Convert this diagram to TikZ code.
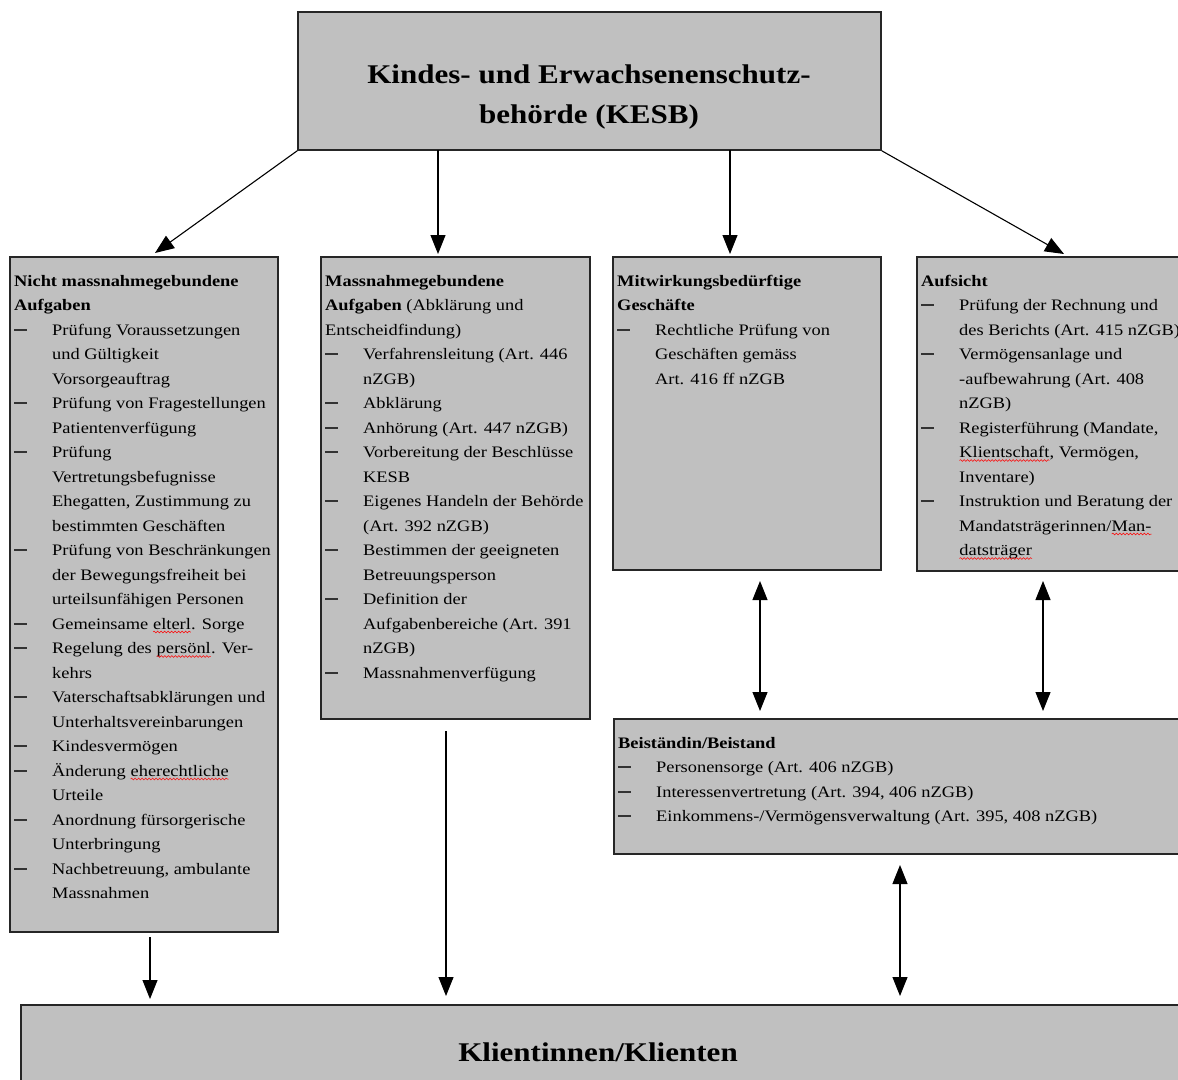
\documentclass[tikz,border=0pt]{standalone}
\usepackage{fontspec}
\setmainfont[FakeStretch=1.15]{Liberation Serif}
\usepackage{xcolor}
\usetikzlibrary{arrows.meta,decorations.pathmorphing}
\definecolor{boxgray}{HTML}{C0C0C0}
\newcommand\rw[1]{\tikz[baseline=(w.base)]{\node[inner sep=0pt,outer sep=0pt,anchor=base] (w) {#1};
  \draw[red,line width=0.5pt,decorate,decoration={snake,amplitude=0.9pt,segment length=3.5pt}]
   ([yshift=-3pt]w.base west) -- ([yshift=-3pt]w.base east);}}
\newcommand\hd[1]{\multicolumn{2}{@{}l@{}}{#1}}
\newcommand\dsh{\raisebox{4.5pt}{\color{black!80}\rule{13pt}{1.6pt}}}
\newenvironment{boxlist}{\fontsize{16}{24.5}\selectfont\begin{tabular}[t]{@{}p{38pt}@{}l@{}}}{\end{tabular}}
\begin{document}
\begin{tikzpicture}[x=1pt,y=-1pt,
  box/.style={draw=black!85,line width=1.6pt,fill=boxgray,inner sep=0pt,rectangle},
  txt/.style={anchor=base west,inner sep=0pt},
  arr/.style={line width=1.1pt,-{Triangle[width=15pt,length=19pt]}},
  biarr/.style={line width=1.1pt,{Triangle[width=15pt,length=19pt]}-{Triangle[width=15pt,length=19pt]}}]
\path[use as bounding box] (0,0) rectangle (1178,1079);
\clip (0,0) rectangle (1178,1079);
\fill[white] (0,0) rectangle (1178,1079);

% boxes
\node[box,minimum width=583pt,minimum height=138pt] (kesb) at (589.5,81) {};
\node[box,minimum width=268pt,minimum height=675pt] (b1) at (144,594.5) {};
\node[box,minimum width=269pt,minimum height=462pt] (b2) at (455.5,488) {};
\node[box,minimum width=268pt,minimum height=313pt] (b3) at (747,413.5) {};
\node[box,minimum width=268pt,minimum height=314pt] (b4) at (1051,414) {};
\node[box,minimum width=571pt,minimum height=135pt] (bst) at (899.5,786.5) {};
\node[box,minimum width=1165pt,minimum height=100pt] (kl) at (603.5,1055) {};

% titles
\node[anchor=base,inner sep=0pt] (kesbt) at (589,83) {\fontsize{27}{40}\selectfont\bfseries
  \begin{tabular}[t]{@{}c@{}}Kindes- und Erwachsenenschutz-\\ behörde (KESB)\end{tabular}};
\node[anchor=base,inner sep=0pt] (klt) at (598,1061) {\fontsize{27}{40}\selectfont\bfseries Klientinnen/Klienten};

% box texts
\node[txt] (t1) at (14,286) {\begin{boxlist}
\hd{\textbf{Nicht massnahmegebundene}}\\
\hd{\textbf{Aufgaben}}\\
\dsh & Prüfung Voraussetzungen\\
  & und Gültigkeit\\
  & Vorsorgeauftrag\\
\dsh & Prüfung von Fragestellungen\\
  & Patientenverfügung\\
\dsh & Prüfung\\
  & Vertretungsbefugnisse\\
  & Ehegatten, Zustimmung zu\\
  & bestimmten Geschäften\\
\dsh & Prüfung von Beschränkungen\\
  & der Bewegungsfreiheit bei\\
  & urteilsunfähigen Personen\\
\dsh & Gemeinsame \rw{elterl}. Sorge\\
\dsh & Regelung des \rw{persönl}. Ver-\\
  & kehrs\\
\dsh & Vaterschaftsabklärungen und\\
  & Unterhaltsvereinbarungen\\
\dsh & Kindesvermögen\\
\dsh & Änderung \rw{eherechtliche}\\
  & Urteile\\
\dsh & Anordnung fürsorgerische\\
  & Unterbringung\\
\dsh & Nachbetreuung, ambulante\\
  & Massnahmen
\end{boxlist}};

\node[txt] (t2) at (325,286) {\begin{boxlist}
\hd{\textbf{Massnahmegebundene}}\\
\hd{\textbf{Aufgaben} (Abklärung und}\\
\hd{Entscheidfindung)}\\
\dsh & Verfahrensleitung (Art. 446\\
  & nZGB)\\
\dsh & Abklärung\\
\dsh & Anhörung (Art. 447 nZGB)\\
\dsh & Vorbereitung der Beschlüsse\\
  & KESB\\
\dsh & Eigenes Handeln der Behörde\\
  & (Art. 392 nZGB)\\
\dsh & Bestimmen der geeigneten\\
  & Betreuungsperson\\
\dsh & Definition der\\
  & Aufgabenbereiche (Art. 391\\
  & nZGB)\\
\dsh & Massnahmenverfügung
\end{boxlist}};

\node[txt] (t3) at (617,286) {\begin{boxlist}
\hd{\textbf{Mitwirkungsbedürftige}}\\
\hd{\textbf{Geschäfte}}\\
\dsh & Rechtliche Prüfung von\\
  & Geschäften gemäss\\
  & Art. 416 ff nZGB
\end{boxlist}};

\node[txt] (t4) at (921,286) {\begin{boxlist}
\hd{\textbf{Aufsicht}}\\
\dsh & Prüfung der Rechnung und\\
  & des Berichts (Art. 415 nZGB)\\
\dsh & Vermögensanlage und\\
  & -aufbewahrung (Art. 408\\
  & nZGB)\\
\dsh & Registerführung (Mandate,\\
  & \rw{Klientschaft}, Vermögen,\\
  & Inventare)\\
\dsh & Instruktion und Beratung der\\
  & Mandatsträgerinnen/\rw{Man-}\\
  & \rw{datsträger}
\end{boxlist}};

\node[txt] (t5) at (618,748) {\begin{boxlist}
\hd{\textbf{Beiständin/Beistand}}\\
\dsh & Personensorge (Art. 406 nZGB)\\
\dsh & Interessenvertretung (Art. 394, 406 nZGB)\\
\dsh & Einkommens-/Vermögensverwaltung (Art. 395, 408 nZGB)
\end{boxlist}};

% connector end points
\coordinate (a1e) at (155,253);
\coordinate (a2s) at (438,150);  \coordinate (a2e) at (438,254);
\coordinate (a3s) at (730,150);  \coordinate (a3e) at (730,254);
\coordinate (a4e) at (1064,254);
\coordinate (c1s) at (760,581);  \coordinate (c1e) at (760,711);
\coordinate (c2s) at (1043,581); \coordinate (c2e) at (1043,711);
\coordinate (d1s) at (150,937);  \coordinate (d1e) at (150,999);
\coordinate (d2s) at (446,731);  \coordinate (d2e) at (446,996);
\coordinate (d3s) at (900,865);  \coordinate (d3e) at (900,996);

\draw[arr] (kesb.south west) -- (a1e);
\draw[arr] (a2s) -- (a2e);
\draw[arr] (a3s) -- (a3e);
\draw[arr] (kesb.south east) -- (a4e);
\draw[biarr] (c1s) -- (c1e);
\draw[biarr] (c2s) -- (c2e);
\draw[arr] (d1s) -- (d1e);
\draw[arr] (d2s) -- (d2e);
\draw[biarr] (d3s) -- (d3e);
\end{tikzpicture}
\end{document}
